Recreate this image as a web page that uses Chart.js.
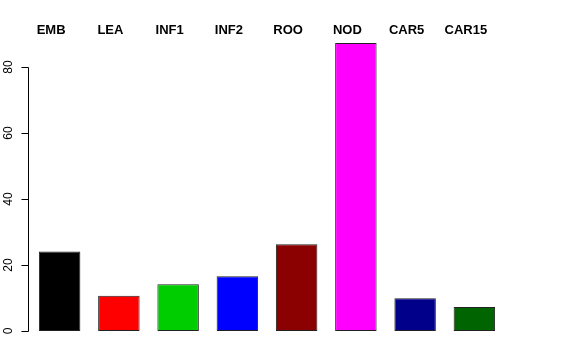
<!DOCTYPE html>
<html>
<head>
<meta charset="utf-8">
<script src="https://cdn.jsdelivr.net/npm/chart.js@4.4.1/dist/chart.umd.min.js"></script>
<style>
  html, body { margin: 0; padding: 0; background: #fff; }
  #wrap { width: 576px; height: 360px; }
</style>
</head>
<body>
<div id="wrap"><canvas id="c" width="576" height="360"></canvas></div>
<script>
const categories = ['EMB', 'LEA', 'INF1', 'INF2', 'ROO', 'NOD', 'CAR5', 'CAR15'];
const values = [24.1, 10.7, 14.2, 16.6, 26.3, 87.3, 9.9, 7.3];
const barColors = ['#000000', '#ff0000', '#00cd00', '#0000ff', '#8b0000', '#ff00ff', '#00008b', '#006400'];
const yTicks = [0, 20, 40, 60, 80];

// R-style axis + top labels drawn from the chart's own scales
const rStyle = {
  id: 'rStyle',
  afterDraw(chart) {
    const { ctx, scales: { x, y } } = chart;
    ctx.save();
    // y axis line and ticks
    const axX = 28.5;
    ctx.strokeStyle = '#000';
    ctx.lineWidth = 1;
    ctx.beginPath();
    ctx.moveTo(axX, Math.round(y.getPixelForValue(yTicks[0])) + 0.5);
    ctx.lineTo(axX, Math.round(y.getPixelForValue(yTicks[yTicks.length - 1])) + 0.5);
    yTicks.forEach(t => {
      const py = Math.round(y.getPixelForValue(t)) + 0.5;
      ctx.moveTo(axX, py);
      ctx.lineTo(axX - 7, py);
    });
    ctx.stroke();
    // rotated tick labels
    ctx.fillStyle = '#000';
    ctx.font = '12px "Liberation Sans", Arial, sans-serif';
    ctx.textAlign = 'center';
    ctx.textBaseline = 'alphabetic';
    yTicks.forEach(t => {
      const py = y.getPixelForValue(t);
      ctx.save();
      ctx.translate(11.5, py);
      ctx.rotate(-Math.PI / 2);
      ctx.fillText(String(t), 0, 0);
      ctx.restore();
    });
    // category labels along the top
    ctx.font = 'bold 13px "Liberation Sans", Arial, sans-serif';
    categories.forEach((name, i) => {
      ctx.fillText(name, x.getPixelForValue(i) - 8.5, 34);
    });
    ctx.restore();
  }
};

new Chart(document.getElementById('c'), {
  type: 'bar',
  data: {
    labels: categories,
    datasets: [{
      data: values,
      backgroundColor: barColors,
      borderColor: '#222',
      borderWidth: 1,
      borderSkipped: false,
      barPercentage: 0.7,
      categoryPercentage: 1.0
    }]
  },
  options: {
    responsive: false,
    animation: false,
    layout: { padding: { left: 30, right: 72, top: 34, bottom: 29 } },
    plugins: { legend: { display: false }, tooltip: { enabled: false } },
    scales: {
      x: { display: false },
      y: { display: false, min: 0, max: 90 }
    }
  },
  plugins: [rStyle]
});
</script>
</body>
</html>
